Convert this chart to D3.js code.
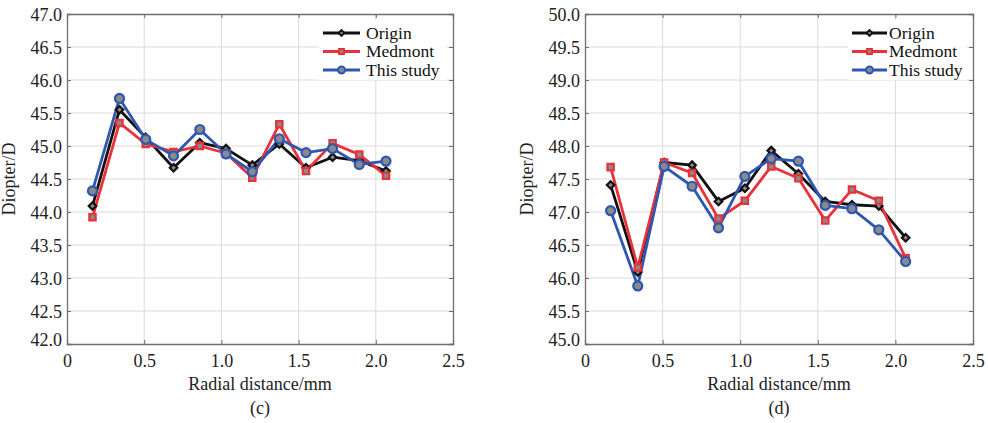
<!DOCTYPE html>
<html><head><meta charset="utf-8">
<script src="https://cdn.jsdelivr.net/npm/d3@7"></script>
<style>body{margin:0;background:#fff}svg{display:block}
svg text{font-family:"Liberation Serif","Times New Roman","DejaVu Serif",serif !important;}</style>
</head><body><svg id="c" width="988" height="423"></svg>
<script>
const radial = [0.165,0.34,0.51,0.69,0.86,1.03,1.2,1.375,1.548,1.72,1.893,2.066];
const seriesNames = ["Origin","Medmont","This study"];
const xTicks = [0,0.5,1.0,1.5,2.0,2.5];
const yTicksC = [42,42.5,43,43.5,44,44.5,45,45.5,46,46.5,47];
const yTicksD = [45,45.5,46,46.5,47,47.5,48,48.5,49,49.5,50];
const originC  = [44.09,45.55,45.13,44.67,45.05,44.96,44.71,45.03,44.67,44.83,44.78,44.62];
const medmontC = [43.92,45.35,45.03,44.91,45.00,44.89,44.52,45.33,44.62,45.04,44.87,44.55];
const studyC   = [44.32,45.72,45.10,44.85,45.25,44.88,44.61,45.11,44.90,44.96,44.72,44.77];
const originD  = [47.41,46.09,47.75,47.71,47.16,47.36,47.93,47.58,47.16,47.11,47.09,46.61];
const medmontD = [47.68,46.16,47.75,47.59,46.90,47.17,47.69,47.51,46.87,47.34,47.17,46.30];
const studyD   = [47.02,45.88,47.69,47.39,46.76,47.54,47.81,47.77,47.10,47.05,46.73,46.25];

const colors = ["#111111","#e8323a","#2f56b0"];
const symbols = [d3.symbolDiamond2, d3.symbolSquare, d3.symbolCircle];
const symSize = [36,40,64];
const font = "Liberation Serif";
const svg = d3.select("#c");

function panel(opt){
  const {x0,x1,y0,y1,yDom,yTicks,data,label,legX,legLen,legGap} = opt;
  const x = d3.scaleLinear().domain([0,2.5]).range([x0,x1]);
  const y = d3.scaleLinear().domain(yDom).range([y1,y0]);
  const g = svg.append("g");
  g.append("g").selectAll("line").data(xTicks.slice(1,-1)).join("line")
    .attr("x1",d=>x(d)).attr("x2",d=>x(d)).attr("y1",y0).attr("y2",y1)
    .attr("stroke","#dadada").attr("stroke-width",1);
  g.append("g").selectAll("line").data(yTicks.slice(1,-1)).join("line")
    .attr("y1",d=>y(d)).attr("y2",d=>y(d)).attr("x1",x0).attr("x2",x1)
    .attr("stroke","#dadada").attr("stroke-width",1);
  const ax = g.append("g").attr("transform",`translate(0,${y1})`)
    .call(d3.axisBottom(x).tickValues(xTicks).tickSize(-4).tickPadding(7)
      .tickFormat(d=>d===0?"0":d3.format(".1f")(d)));
  const axT = g.append("g").attr("transform",`translate(0,${y0})`)
    .call(d3.axisTop(x).tickValues(xTicks).tickSize(-4).tickFormat(""));
  const ay = g.append("g").attr("transform",`translate(${x0},0)`)
    .call(d3.axisLeft(y).tickValues(yTicks).tickSize(-4).tickPadding(5).tickFormat(d3.format(".1f")));
  const ayR = g.append("g").attr("transform",`translate(${x1},0)`)
    .call(d3.axisRight(y).tickValues(yTicks).tickSize(-4).tickFormat(""));
  [ax,axT,ay,ayR].forEach(a=>{
    a.attr("font-family",font);
    a.selectAll(".domain").attr("stroke","#6e6e6e").attr("stroke-width",1.3);
    a.selectAll(".tick line").attr("stroke","#6e6e6e");
    a.selectAll("text").attr("font-size",18).attr("fill","#222");
  });
  ax.selectAll(".tick text").attr("dy","0.9em");
  ay.selectAll(".tick text").attr("dy","0.35em");
  ay.selectAll(".tick").filter(d=>d===yDom[0]).select("text").attr("dy","0.1em");
  const line = d3.line().x((d,i)=>x(radial[i])).y(d=>y(d));
  data.forEach((s,k)=>{
    g.append("path").datum(s).attr("d",line).attr("fill","none")
      .attr("stroke",colors[k]).attr("stroke-width",2.8).attr("stroke-linejoin","round");
  });
  data.forEach((s,k)=>{
    const sym = d3.symbol().type(symbols[k]).size(symSize[k]);
    g.append("g").selectAll("path").data(s).join("path")
      .attr("transform",(d,i)=>`translate(${x(radial[i])},${y(d)})`)
      .attr("d",sym).attr("fill","#8a8a8a").attr("stroke",colors[k]).attr("stroke-width",2.2);
  });
  const lg = g.append("g");
  lg.append("rect").attr("x",legX-4).attr("y",y0+6).attr("width",x1-legX-2).attr("height",60).attr("fill","#fff");
  seriesNames.forEach((n,k)=>{
    const yy = y0+19+k*18.5;
    lg.append("line").attr("x1",legX).attr("x2",legX+legLen).attr("y1",yy).attr("y2",yy)
      .attr("stroke",colors[k]).attr("stroke-width",2.8);
    lg.append("path").attr("transform",`translate(${legX+legLen/2},${yy})`)
      .attr("d",d3.symbol().type(symbols[k]).size(symSize[k]*0.6)())
      .attr("fill","#8a8a8a").attr("stroke",colors[k]).attr("stroke-width",2);
    lg.append("text").attr("x",legX+legLen+legGap).attr("y",yy).attr("dy","0.33em")
      .attr("font-family",font).attr("font-size",17.5).attr("fill","#111").text(n);
  });
  g.append("text").attr("transform",`translate(${x0-52},${(y0+y1)/2}) rotate(-90)`)
    .attr("text-anchor","middle").attr("font-family",font).attr("font-size",18).attr("fill","#222").text("Diopter/D");
  g.append("text").attr("x",(x0+x1)/2).attr("y",390).attr("text-anchor","middle")
    .attr("font-family",font).attr("font-size",18).attr("fill","#222").text("Radial distance/mm");
  g.append("text").attr("x",(x0+x1)/2).attr("y",414).attr("text-anchor","middle")
    .attr("font-family",font).attr("font-size",18).attr("fill","#222").text(label);
}

panel({x0:67,x1:453,y0:14,y1:344,yDom:[42,47],yTicks:yTicksC,data:[originC,medmontC,studyC],label:"(c)",legX:323,legLen:37,legGap:6});
panel({x0:585,x1:973,y0:14,y1:344,yDom:[45,50],yTicks:yTicksD,data:[originD,medmontD,studyD],label:"(d)",legX:852,legLen:35,legGap:2});
</script></body></html>
